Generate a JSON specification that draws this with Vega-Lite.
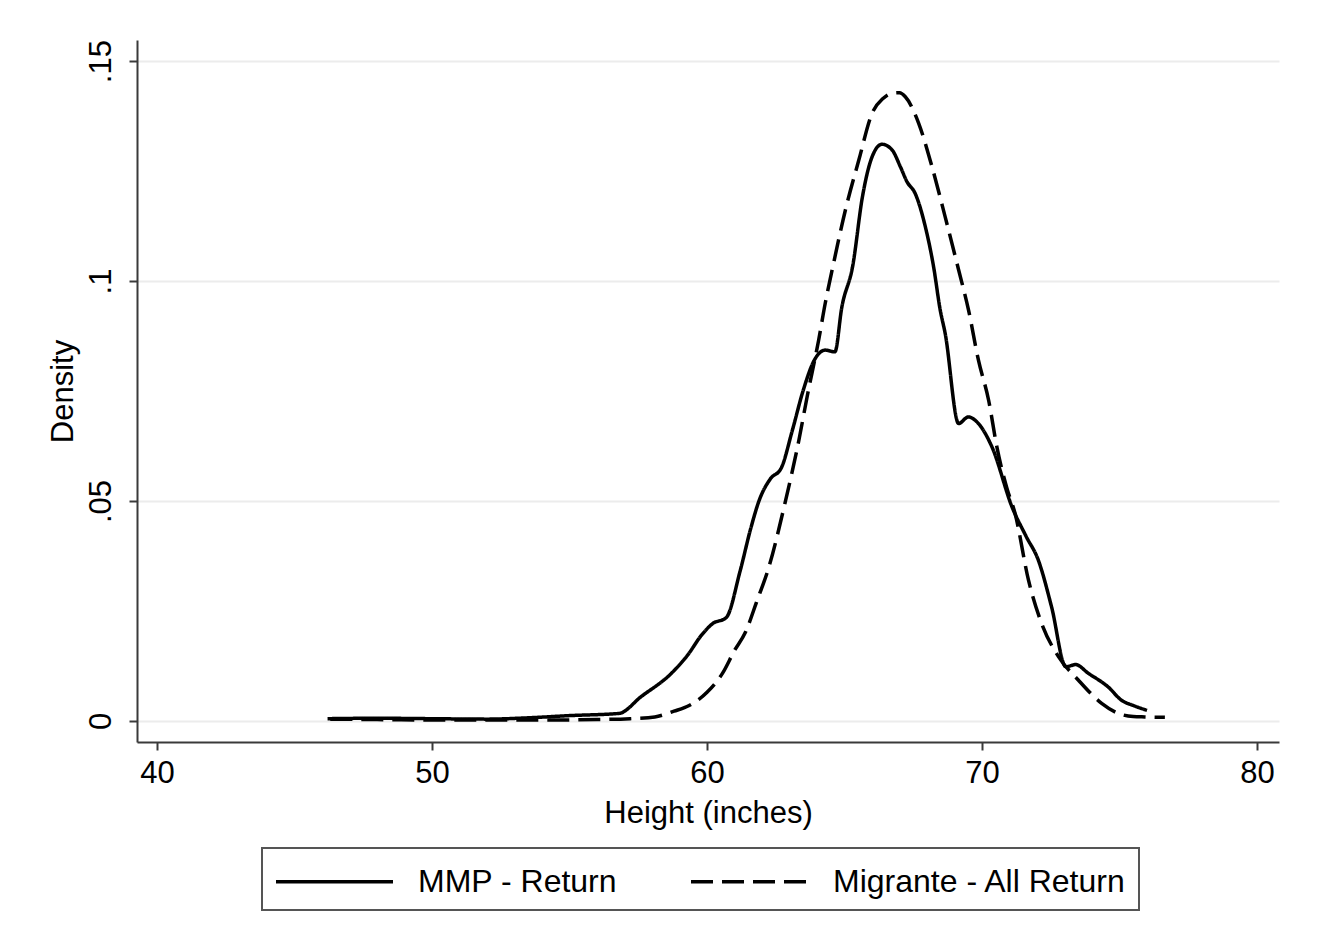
{
  "$schema": "https://vega.github.io/schema/vega-lite/v6.json",
  "width": 1142,
  "height": 702,
  "autosize": "none",
  "padding": {"left": 137, "top": 40, "right": 40, "bottom": 210},
  "background": "white",
  "config": {
    "font": "Liberation Sans",
    "view": {"stroke": null},
    "legend": {"strokeWidth": 2},
    "axis": {"labelFont": "Liberation Sans", "titleFont": "Liberation Sans", "labelColor": "black", "titleColor": "black", "titleFontWeight": "normal", "labelFontSize": 31, "titleFontSize": 31, "domainColor": "#3a3a3a", "domainWidth": 2, "tickColor": "#3a3a3a", "tickWidth": 2, "tickSize": 8}
  },
  "datasets": {
    "curves": [
      {"height": 46.2, "density": 0.0005, "series": "MMP - Return"},
      {"height": 48.0, "density": 0.0006, "series": "MMP - Return"},
      {"height": 50.0, "density": 0.0005, "series": "MMP - Return"},
      {"height": 52.0, "density": 0.0004, "series": "MMP - Return"},
      {"height": 53.5, "density": 0.0007, "series": "MMP - Return"},
      {"height": 55.0, "density": 0.0012, "series": "MMP - Return"},
      {"height": 56.8, "density": 0.0017, "series": "MMP - Return"},
      {"height": 57.6, "density": 0.0055, "series": "MMP - Return"},
      {"height": 58.7, "density": 0.0108, "series": "MMP - Return"},
      {"height": 59.3, "density": 0.015, "series": "MMP - Return"},
      {"height": 59.8, "density": 0.0195, "series": "MMP - Return"},
      {"height": 60.2, "density": 0.0221, "series": "MMP - Return"},
      {"height": 60.7, "density": 0.0235, "series": "MMP - Return"},
      {"height": 61.2, "density": 0.034, "series": "MMP - Return"},
      {"height": 61.6, "density": 0.044, "series": "MMP - Return"},
      {"height": 61.9, "density": 0.0502, "series": "MMP - Return"},
      {"height": 62.3, "density": 0.055, "series": "MMP - Return"},
      {"height": 62.7, "density": 0.0575, "series": "MMP - Return"},
      {"height": 63.1, "density": 0.066, "series": "MMP - Return"},
      {"height": 63.5, "density": 0.0752, "series": "MMP - Return"},
      {"height": 63.9, "density": 0.082, "series": "MMP - Return"},
      {"height": 64.3, "density": 0.0843, "series": "MMP - Return"},
      {"height": 64.65, "density": 0.0839, "series": "MMP - Return"},
      {"height": 64.9, "density": 0.094, "series": "MMP - Return"},
      {"height": 65.3, "density": 0.1035, "series": "MMP - Return"},
      {"height": 65.65, "density": 0.1191, "series": "MMP - Return"},
      {"height": 66.0, "density": 0.1282, "series": "MMP - Return"},
      {"height": 66.36, "density": 0.1311, "series": "MMP - Return"},
      {"height": 66.73, "density": 0.1298, "series": "MMP - Return"},
      {"height": 67.03, "density": 0.126, "series": "MMP - Return"},
      {"height": 67.27, "density": 0.1226, "series": "MMP - Return"},
      {"height": 67.57, "density": 0.1199, "series": "MMP - Return"},
      {"height": 67.94, "density": 0.1123, "series": "MMP - Return"},
      {"height": 68.24, "density": 0.1032, "series": "MMP - Return"},
      {"height": 68.48, "density": 0.0934, "series": "MMP - Return"},
      {"height": 68.66, "density": 0.0881, "series": "MMP - Return"},
      {"height": 69.15, "density": 0.0676, "series": "MMP - Return"},
      {"height": 69.5, "density": 0.0691, "series": "MMP - Return"},
      {"height": 69.87, "density": 0.0676, "series": "MMP - Return"},
      {"height": 70.36, "density": 0.0623, "series": "MMP - Return"},
      {"height": 71.1, "density": 0.0485, "series": "MMP - Return"},
      {"height": 71.6, "density": 0.042, "series": "MMP - Return"},
      {"height": 72.05, "density": 0.0365, "series": "MMP - Return"},
      {"height": 72.53, "density": 0.0259, "series": "MMP - Return"},
      {"height": 73.05, "density": 0.0123, "series": "MMP - Return"},
      {"height": 73.4, "density": 0.0128, "series": "MMP - Return"},
      {"height": 73.87, "density": 0.0108, "series": "MMP - Return"},
      {"height": 74.59, "density": 0.0077, "series": "MMP - Return"},
      {"height": 75.07, "density": 0.0047, "series": "MMP - Return"},
      {"height": 75.5, "density": 0.0035, "series": "MMP - Return"},
      {"height": 76.0, "density": 0.0024, "series": "MMP - Return"},
      {"height": 46.3, "density": 0.0004, "series": "Migrante - All Return"},
      {"height": 48.0, "density": 0.0003, "series": "Migrante - All Return"},
      {"height": 50.0, "density": 0.0002, "series": "Migrante - All Return"},
      {"height": 52.0, "density": 0.0002, "series": "Migrante - All Return"},
      {"height": 54.0, "density": 0.0002, "series": "Migrante - All Return"},
      {"height": 56.0, "density": 0.0003, "series": "Migrante - All Return"},
      {"height": 57.2, "density": 0.0005, "series": "Migrante - All Return"},
      {"height": 58.1, "density": 0.0009, "series": "Migrante - All Return"},
      {"height": 58.8, "density": 0.0022, "series": "Migrante - All Return"},
      {"height": 59.35, "density": 0.0035, "series": "Migrante - All Return"},
      {"height": 60.0, "density": 0.0065, "series": "Migrante - All Return"},
      {"height": 60.56, "density": 0.0108, "series": "Migrante - All Return"},
      {"height": 61.0, "density": 0.016, "series": "Migrante - All Return"},
      {"height": 61.4, "density": 0.0202, "series": "Migrante - All Return"},
      {"height": 61.8, "density": 0.027, "series": "Migrante - All Return"},
      {"height": 62.25, "density": 0.035, "series": "Migrante - All Return"},
      {"height": 62.86, "density": 0.0502, "series": "Migrante - All Return"},
      {"height": 63.34, "density": 0.0638, "series": "Migrante - All Return"},
      {"height": 63.64, "density": 0.0737, "series": "Migrante - All Return"},
      {"height": 64.06, "density": 0.0866, "series": "Migrante - All Return"},
      {"height": 64.3, "density": 0.095, "series": "Migrante - All Return"},
      {"height": 64.6, "density": 0.104, "series": "Migrante - All Return"},
      {"height": 65.03, "density": 0.1161, "series": "Migrante - All Return"},
      {"height": 65.52, "density": 0.1275, "series": "Migrante - All Return"},
      {"height": 66.0, "density": 0.1381, "series": "Migrante - All Return"},
      {"height": 66.4, "density": 0.1415, "series": "Migrante - All Return"},
      {"height": 66.73, "density": 0.1427, "series": "Migrante - All Return"},
      {"height": 67.0, "density": 0.1428, "series": "Migrante - All Return"},
      {"height": 67.21, "density": 0.1419, "series": "Migrante - All Return"},
      {"height": 67.7, "density": 0.1358, "series": "Migrante - All Return"},
      {"height": 68.18, "density": 0.126, "series": "Migrante - All Return"},
      {"height": 68.66, "density": 0.1146, "series": "Migrante - All Return"},
      {"height": 69.15, "density": 0.1025, "series": "Migrante - All Return"},
      {"height": 69.51, "density": 0.0934, "series": "Migrante - All Return"},
      {"height": 69.87, "density": 0.082, "series": "Migrante - All Return"},
      {"height": 70.24, "density": 0.0729, "series": "Migrante - All Return"},
      {"height": 70.54, "density": 0.0623, "series": "Migrante - All Return"},
      {"height": 70.9, "density": 0.053, "series": "Migrante - All Return"},
      {"height": 71.2, "density": 0.0472, "series": "Migrante - All Return"},
      {"height": 71.69, "density": 0.032, "series": "Migrante - All Return"},
      {"height": 72.17, "density": 0.0221, "series": "Migrante - All Return"},
      {"height": 72.78, "density": 0.0146, "series": "Migrante - All Return"},
      {"height": 73.5, "density": 0.0093, "series": "Migrante - All Return"},
      {"height": 74.35, "density": 0.004, "series": "Migrante - All Return"},
      {"height": 74.96, "density": 0.0017, "series": "Migrante - All Return"},
      {"height": 75.5, "density": 0.001, "series": "Migrante - All Return"},
      {"height": 75.92, "density": 0.0009, "series": "Migrante - All Return"},
      {"height": 76.65, "density": 0.0008, "series": "Migrante - All Return"}
    ]
  },
  "data": {"name": "curves"},
  "mark": {"type": "line", "color": "black", "strokeWidth": 3.5, "interpolate": "monotone", "clip": true},
  "encoding": {
    "x": {
      "field": "height", "type": "quantitative",
      "scale": {"domain": [39.27, 80.8], "nice": false, "zero": false},
      "axis": {"values": [40, 50, 60, 70, 80], "grid": false, "title": "Height (inches)", "labelPadding": 8, "titlePadding": 10}
    },
    "y": {
      "field": "density", "type": "quantitative",
      "scale": {"domain": [-0.0048, 0.1548], "nice": false, "zero": false},
      "axis": {"values": [0, 0.05, 0.1, 0.15], "labelExpr": "datum.value == 0 ? '0' : datum.value == 0.05 ? '.05' : datum.value == 0.1 ? '.1' : '.15'", "labelAngle": -90, "labelAlign": "center", "labelBaseline": "bottom", "labelPadding": 12, "title": "Density", "titlePadding": 6, "grid": true, "gridColor": "#ececec", "gridWidth": 2}
    },
    "strokeDash": {
      "field": "series", "type": "nominal",
      "scale": {"domain": ["MMP - Return", "Migrante - All Return"], "range": [[1, 0], [22, 9]]},
      "legend": {
        "title": null, "orient": "none", "direction": "horizontal",
        "legendX": 125, "legendY": 808,
        "padding": 12, "strokeColor": "#555", "fillColor": "white",
        "symbolType": "M-1,0H5", "symbolSize": 1521, "symbolStrokeWidth": 3.5, "symbolStrokeColor": "black",
        "labelFontSize": 32, "labelFont": "Liberation Sans", "labelColor": "black", "labelOffset": 101, "labelLimit": 0,
        "columnPadding": 66
      }
    }
  }
}
